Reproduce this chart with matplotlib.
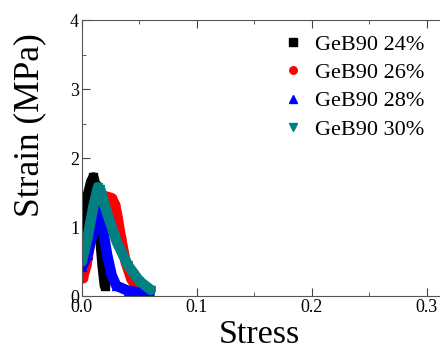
import matplotlib
matplotlib.use("Agg")
import matplotlib.pyplot as plt
from matplotlib.ticker import MultipleLocator

plt.rcParams['font.family'] = ['Liberation Serif', 'DejaVu Serif']

# data
labels = ['GeB90 24%', 'GeB90 26%', 'GeB90 28%', 'GeB90 30%']
colors = ['black', 'red', 'blue', '#008080']
markers = ['s', 'o', '^', 'v']

x24 = [0.000, 0.002, 0.005, 0.008, 0.010, 0.012, 0.014, 0.016, 0.018, 0.020]
y24 = [0.85, 1.15, 1.45, 1.65, 1.72, 1.60, 1.25, 0.85, 0.45, 0.15]

x26 = [0.001, 0.004, 0.008, 0.012, 0.015, 0.020, 0.026, 0.029, 0.031, 0.034, 0.038, 0.043, 0.048, 0.052]
y26 = [0.27, 0.45, 0.85, 1.20, 1.45, 1.45, 1.42, 1.32, 1.15, 0.85, 0.50, 0.25, 0.12, 0.08]

x28 = [0.000, 0.005, 0.010, 0.013, 0.015, 0.018, 0.022, 0.026, 0.030, 0.040, 0.050, 0.059]
y28 = [0.42, 0.60, 0.95, 1.25, 1.35, 1.00, 0.60, 0.30, 0.15, 0.08, 0.05, 0.04]

x30 = [0.000, 0.005, 0.010, 0.014, 0.016, 0.022, 0.030, 0.040, 0.050, 0.060]
y30 = [0.50, 0.85, 1.30, 1.58, 1.55, 1.20, 0.80, 0.45, 0.22, 0.09]

xs = [x24, x26, x28, x30]
ys = [y24, y26, y28, y30]

fig = plt.figure(figsize=(4.4, 3.53), dpi=100)
ax = fig.add_axes([0.186, 0.161, 0.915, 0.782])

for x, y, c, m, lab in zip(xs, ys, colors, markers, labels):
    ax.plot(x, y, color=c, lw=7.5, marker=m, ms=6, label=lab,
            solid_capstyle='round', solid_joinstyle='round')

ax.set_xlim(0, 0.35)
ax.set_ylim(0, 4)
ax.xaxis.set_major_locator(MultipleLocator(0.1))
ax.xaxis.set_minor_locator(MultipleLocator(0.05))
ax.yaxis.set_major_locator(MultipleLocator(1))
ax.yaxis.set_minor_locator(MultipleLocator(0.5))
ax.tick_params(which='both', direction='in', top=True, right=True,
               labelsize=13, color='#444444')
ax.tick_params(which='major', length=6)
ax.tick_params(which='minor', length=3)
ax.tick_params(axis='y', pad=2)
ax.tick_params(axis='x', pad=2)
for s in ax.spines.values():
    s.set_color('#555555')

ax.set_xlabel('Stress', fontsize=24.5)
ax.set_ylabel('Strain (MPa)', fontsize=25.5)
ax.xaxis.set_label_coords(0.442, -0.085)
ax.yaxis.set_label_coords(-0.089, 0.62)

leg = ax.legend(loc='upper left', bbox_to_anchor=(0.62, 0.96),
                bbox_transform=fig.transFigure, frameon=False, fontsize=16,
                handlelength=0, handletextpad=1.0, labelspacing=0.35,
                markerscale=0.9)

fig.savefig('out.png', dpi=100)
